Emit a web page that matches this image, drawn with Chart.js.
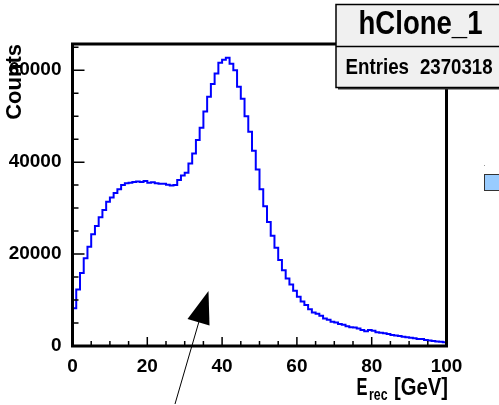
<!DOCTYPE html>
<html>
<head>
<meta charset="utf-8">
<script src="https://cdn.jsdelivr.net/npm/chart.js@4.4.1/dist/chart.umd.min.js"></script>
<style>
  body { margin: 0; background: #fff; }
  canvas { display: block; }
</style>
</head>
<body>
<canvas id="hist" width="499" height="405"></canvas>
<script>
// hClone_1 : reconstructed energy, 100 bins of 1 GeV from 0 to 100
const xMin = 0;
const xMax = 100;
const counts = [
  8200, 12300, 15900, 19100, 21600, 24300, 26100, 28000, 29600, 31400,
  32300, 33300, 34100, 35000, 35400, 35500, 35700, 35800, 35700, 35900,
  35500, 35600, 35400, 35300, 35300, 35100, 34900, 35000, 36100, 37100,
  37700, 39700, 41900, 44800, 47500, 51000, 54200, 57000, 59300, 61600,
  62300, 62700, 61400, 60000, 56400, 53800, 50000, 46600, 42500, 38400,
  34100, 30400, 27000, 24000, 21400, 18700, 16500, 14700, 13400, 12000,
  10700, 9700, 8900, 8000, 7300, 7000, 6600, 6000, 5700, 5300,
  5100, 4800, 4600, 4300, 4100, 4000, 3800, 3500, 3200, 3500,
  3300, 3000, 2900, 2800, 2600, 2400, 2300, 2200, 2000, 1900,
  1800, 1700, 1500, 1500, 1300, 1200, 1100, 1000, 900, 800
];
const xTicks = [0, 20, 40, 60, 80, 100];
const yTicks = [0, 20000, 40000, 60000];
const yMax = 65700;
const histName = 'hClone_1';
const entries = 2370318;

const FONT = '"Liberation Sans", Arial, Helvetica, sans-serif';

// outline of the histogram: start on the axis, one point per bin low edge, close at xMax
const binWidth = (xMax - xMin) / counts.length;
const outline = [{ x: xMin, y: 0 }];
counts.forEach((c, i) => outline.push({ x: xMin + i * binWidth, y: c }));
outline.push({ x: xMax, y: counts[counts.length - 1] });

// draw text squeezed horizontally so it looks like the narrow Helvetica of ROOT
function squeezed(ctx, text, x, y, size, align, width) {
  ctx.font = 'bold ' + size + 'px ' + FONT;
  const w = ctx.measureText(text).width;
  const sx = width ? width / w : 0.85;
  ctx.save();
  ctx.translate(x, y);
  ctx.scale(sx, 1);
  ctx.textAlign = align;
  ctx.textBaseline = 'alphabetic';
  ctx.fillText(text, 0, 0);
  ctx.restore();
}

const rootFrame = {
  id: 'rootFrame',
  afterDraw(chart) {
    const { ctx, chartArea: a, scales: { x, y } } = chart;
    ctx.save();
    ctx.strokeStyle = '#000';
    ctx.fillStyle = '#000';

    // tick marks point into the frame
    ctx.lineWidth = 1.5;
    ctx.beginPath();
    for (let v = xMin; v <= xMax; v += 5) {
      const px = x.getPixelForValue(v);
      ctx.moveTo(px, a.bottom);
      ctx.lineTo(px, a.bottom - (v % 20 === 0 ? 9 : 5));
    }
    for (let v = 0; v <= yMax; v += 5000) {
      const py = y.getPixelForValue(v);
      ctx.moveTo(a.left, py);
      ctx.lineTo(a.left + (v % 20000 === 0 ? 12 : 6), py);
    }
    ctx.stroke();

    // frame
    ctx.lineWidth = 3;
    ctx.strokeRect(a.left, a.top, a.right - a.left, a.bottom - a.top);

    // x axis title E_rec [GeV]
    ctx.fillStyle = '#000';
    squeezed(ctx, 'E', 356.5, 394.5, 23, 'left', 11);
    squeezed(ctx, 'rec', 369, 400, 17, 'left', 18.5);
    squeezed(ctx, '[GeV]', 448, 394.5, 23, 'right', 54);

    // arrow pointing at the distribution
    ctx.lineWidth = 1;
    ctx.beginPath();
    ctx.moveTo(175, 404);
    ctx.lineTo(200, 318);
    ctx.stroke();
    ctx.beginPath();
    ctx.moveTo(208.5, 291);
    ctx.lineTo(187.5, 319);
    ctx.lineTo(209.5, 325.5);
    ctx.closePath();
    ctx.fill();

    // stats box (runs off the right edge)
    const bx = 336, by = 4.5, bw = 180, bh = 83;
    ctx.fillStyle = '#333';
    ctx.fillRect(bx + 2, by + 2, bw, bh);
    ctx.fillStyle = '#f0f0f0';
    ctx.fillRect(bx, by, bw, bh);
    ctx.lineWidth = 1.5;
    ctx.strokeRect(bx, by, bw, bh);
    ctx.beginPath();
    ctx.moveTo(bx, 46.5);
    ctx.lineTo(bx + bw, 46.5);
    ctx.stroke();
    ctx.fillStyle = '#000';
    squeezed(ctx, histName, 420.5, 33.5, 34, 'center', 124);
    squeezed(ctx, 'Entries', 345.5, 74, 22, 'left', 63.5);
    squeezed(ctx, String(entries), 492.5, 74, 22, 'right', 72.5);

    // piece of a legend box at the right edge
    ctx.fillStyle = '#99ccff';
    ctx.fillRect(484.5, 174.5, 20, 16);
    ctx.strokeStyle = '#333';
    ctx.lineWidth = 1;
    ctx.strokeRect(484.5, 174.5, 20, 16);
    ctx.fillStyle = '#999';
    ctx.fillRect(484, 165, 1, 1);
    ctx.restore();
  }
};

const tickFont = { family: FONT, size: 19, weight: 'bold' };

new Chart(document.getElementById('hist'), {
  type: 'line',
  data: {
    datasets: [{
      data: outline,
      stepped: 'before',
      borderColor: '#0000ff',
      borderWidth: 2,
      pointRadius: 0,
      fill: false
    }]
  },
  options: {
    responsive: false,
    animation: false,
    layout: { padding: { top: 44, right: 52.5, left: 0, bottom: 0 } },
    plugins: {
      legend: { display: false },
      tooltip: { enabled: false }
    },
    scales: {
      x: {
        type: 'linear',
        min: xMin,
        max: xMax,
        afterFit: s => { s.height = 59; },
        afterBuildTicks: s => { s.ticks = xTicks.map(v => ({ value: v })); },
        grid: { display: false, drawTicks: false },
        border: { display: false },
        ticks: { font: tickFont, color: '#000', padding: 9, maxRotation: 0, autoSkip: false, callback: v => String(v) }
      },
      y: {
        type: 'linear',
        min: 0,
        max: yMax,
        afterFit: s => { s.width = 72.5; },
        afterBuildTicks: s => { s.ticks = yTicks.map(v => ({ value: v })); },
        grid: { display: false, drawTicks: false },
        border: { display: false },
        ticks: { font: tickFont, color: '#000', padding: 11, autoSkip: false, callback: v => String(v) },
        title: {
          display: true,
          text: 'Counts',
          align: 'end',
          color: '#000',
          font: { family: FONT, size: 22, weight: 'bold' },
          padding: { top: 2, bottom: 0 }
        }
      }
    }
  },
  plugins: [rootFrame]
});
</script>
</body>
</html>
